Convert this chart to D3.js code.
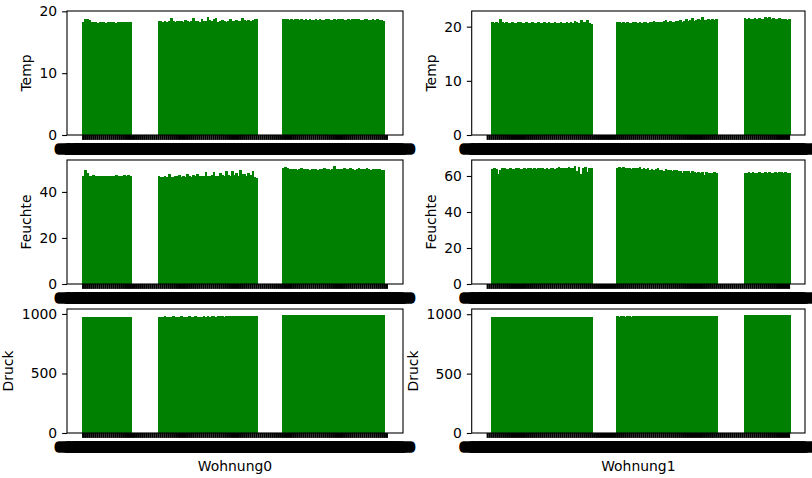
<!DOCTYPE html>
<html>
<head>
<meta charset="utf-8">
<script src="https://cdn.jsdelivr.net/npm/d3@7"></script>
<style>
  body { margin: 0; background: #fff; }
  svg { display: block; }
  text { font-family: "DejaVu Sans", sans-serif; fill: #000; }
</style>
</head>
<body>
<svg id="chart" width="812" height="478"></svg>
<script>
// Months (MM.YYYY), shared by both apartments
const months = [
  "01.2008","02.2008","03.2008","04.2008","05.2008","06.2008","07.2008","08.2008","09.2008","10.2008","11.2008","12.2008",
  "01.2009","02.2009","03.2009","04.2009","05.2009","06.2009","07.2009","08.2009","09.2009","10.2009","11.2009","12.2009",
  "01.2010","02.2010","03.2010","04.2010","05.2010","06.2010","07.2010","08.2010","09.2010","10.2010","11.2010","12.2010",
  "01.2011","02.2011","03.2011","04.2011","05.2011","06.2011","07.2011","08.2011","09.2011","10.2011","11.2011","12.2011",
  "01.2012","02.2012","03.2012","04.2012","05.2012","06.2012","07.2012","08.2012","09.2012","10.2012","11.2012","12.2012",
  "01.2013","02.2013","03.2013","04.2013","05.2013","06.2013","07.2013","08.2013","09.2013","10.2013","11.2013","12.2013",
  "01.2014","02.2014","03.2014","04.2014","05.2014","06.2014","07.2014","08.2014","09.2014","10.2014","11.2014","12.2014",
  "01.2015","02.2015","03.2015","04.2015","05.2015","06.2015","07.2015","08.2015","09.2015","10.2015","11.2015","12.2015",
  "01.2016","02.2016","03.2016","04.2016","05.2016","06.2016","07.2016","08.2016","09.2016","10.2016","11.2016","12.2016",
  "01.2017","02.2017","03.2017","04.2017","05.2017","06.2017","07.2017","08.2017","09.2017","10.2017","11.2017","12.2017",
  "01.2018","02.2018","03.2018","04.2018","05.2018","06.2018","07.2018","08.2018","09.2018","10.2018","11.2018","12.2018",
  "01.2019","02.2019","03.2019","04.2019","05.2019","06.2019","07.2019","08.2019","09.2019","10.2019","11.2019","12.2019",
  "01.2020","02.2020","03.2020","04.2020","05.2020","06.2020"
];

// Wohnung0 – null marks months without readings
const temp0 = [
  18.3,18.7,18.8,18.6,18.2,18.2,18.2,18.15,18.2,18.2,18.2,18.15,18.2,18.2,18.2,18.2,18.15,18.2,18.2,18.2,18.2,18.2,18.2,18.2,
  null,null,null,null,null,null,null,null,null,null,null,null,null,
  18.4,18.5,18.3,18.4,18.3,18.5,18.9,18.4,18.3,18.4,
  18.5,18.4,18.3,18.6,18.4,18.3,18.5,18.9,18.5,18.4,
  18.3,18.7,18.5,18.4,19.1,18.6,18.5,18.7,18.9,18.3,
  18.4,18.6,18.5,18.3,18.4,18.8,18.5,18.4,18.6,18.4,
  18.5,18.9,18.6,18.5,18.6,18.5,18.6,18.7,18.8,
  null,null,null,null,null,null,null,null,null,null,null,null,
  18.7,18.75,18.7,18.65,18.7,18.6,18.7,18.7,18.65,18.7,
  18.6,18.7,18.65,18.7,18.6,18.65,18.7,18.6,18.7,18.65,
  18.6,18.7,18.7,18.6,18.65,18.7,18.6,18.7,18.75,18.7,
  18.6,18.65,18.7,18.6,18.7,18.7,18.75,18.7,18.6,18.65,
  18.7,18.7,18.6,18.65,18.7,18.6,18.7,18.65,18.6,18.5,
  null,null
];
const feuchte0 = [
  47.0,49.5,48.2,46.8,46.9,47.2,46.8,46.7,47.0,46.9,46.8,47.1,46.9,46.8,47.0,46.9,47.2,47.0,46.9,47.1,47.3,46.9,47.2,47.0,
  null,null,null,null,null,null,null,null,null,null,null,null,null,
  46.8,46.3,46.6,46.9,46.5,47.8,46.6,46.5,46.9,46.7,
  47.5,46.6,46.8,46.4,47.9,46.7,46.5,47.2,46.8,47.6,
  46.7,47.0,46.8,48.6,47.1,46.9,47.4,48.8,47.0,46.8,
  48.1,47.2,46.9,48.9,47.3,47.0,49.3,47.4,48.2,47.1,
  49.5,47.6,48.0,46.9,48.4,47.2,49.0,46.5,46.2,
  null,null,null,null,null,null,null,null,null,null,null,null,
  50.3,51.0,50.2,49.8,50.0,49.9,50.1,49.7,49.9,50.2,
  49.8,49.9,50.0,49.7,49.8,50.1,49.8,49.6,49.9,50.0,
  50.2,49.8,49.9,49.7,50.0,51.3,49.9,50.0,49.8,50.1,
  50.3,49.9,49.8,50.2,50.0,49.7,50.0,50.4,49.9,50.1,
  49.8,50.2,50.0,49.7,49.9,50.1,49.8,50.0,49.7,49.6,
  null,null
];
const druck0 = [
  973,975,974,972,972,971,972,972,971,972,972,971,972,972,972,971,972,972,972,971,972,972,972,972,
  null,null,null,null,null,null,null,null,null,null,null,null,null,
  977,978,977,979,978,977,978,980,978,977,
  978,979,978,977,978,981,978,978,979,978,
  977,978,980,978,979,978,981,979,978,979,
  980,979,978,980,979,982,979,980,979,981,
  980,979,982,980,979,981,980,982,980,
  null,null,null,null,null,null,null,null,null,null,null,null,
  988,989,990,989,988,990,989,991,989,990,
  989,990,988,989,991,990,989,990,989,988,
  990,989,991,990,989,990,992,990,989,990,
  991,990,989,990,991,990,989,991,990,989,
  990,991,990,989,990,991,990,989,990,988,
  null,null
];

// Wohnung1
const temp1 = [
  null,null,
  20.8,20.7,20.8,20.7,21.5,20.9,20.7,20.8,20.7,20.7,
  20.8,20.7,20.7,20.8,20.9,20.7,20.7,20.8,20.7,20.7,
  20.8,20.7,20.7,20.8,20.7,20.7,20.8,20.7,20.9,20.7,
  20.7,20.8,20.7,20.7,20.8,20.7,20.7,20.8,20.7,20.8,
  20.7,21.1,20.8,20.7,21.3,20.8,20.9,21.2,20.7,20.5,
  null,null,null,null,null,null,null,null,null,null,null,null,
  20.9,20.8,20.7,20.9,20.6,20.8,20.7,20.6,20.8,20.9,
  20.7,20.8,20.6,20.9,20.8,20.7,20.9,20.8,21.0,20.8,
  20.9,20.8,20.9,21.0,21.2,20.9,21.0,20.8,20.9,21.1,
  21.0,21.3,20.9,21.0,21.5,21.0,21.2,21.6,21.1,21.3,
  21.4,21.2,21.7,21.3,21.2,21.5,21.3,21.4,21.2,21.5,
  null,null,null,null,null,null,null,null,null,null,null,null,null,
  21.6,21.5,21.6,21.5,21.4,21.6,21.5,21.6,21.5,21.5,
  21.7,21.6,21.8,21.5,21.6,21.5,21.4,21.6,21.5,21.4,21.5,21.3,21.4
];
const feuchte1 = [
  null,null,
  64.0,64.3,63.8,61.0,63.5,64.2,64.5,63.9,64.1,64.3,
  64.0,63.7,64.2,64.4,64.0,63.8,64.3,64.1,64.5,64.2,
  63.9,64.3,64.0,64.4,64.6,64.2,63.9,64.4,64.1,64.5,
  64.3,64.0,64.6,64.8,64.4,64.2,64.7,64.5,65.0,64.6,
  64.4,65.6,63.0,64.8,61.0,64.5,64.9,62.0,64.7,64.3,
  null,null,null,null,null,null,null,null,null,null,null,null,
  64.4,64.8,64.2,65.0,64.5,64.3,64.7,64.1,64.4,64.6,
  64.2,64.9,63.8,64.3,63.9,64.5,63.6,64.0,63.4,63.8,
  64.2,63.3,63.6,62.8,63.9,63.2,63.5,62.9,63.1,63.4,
  62.7,63.0,61.8,62.9,62.5,62.8,61.5,62.6,62.3,61.9,
  62.4,61.6,62.0,60.8,62.2,61.7,61.9,61.4,62.0,61.5,
  null,null,null,null,null,null,null,null,null,null,null,null,null,
  61.5,61.8,62.0,61.6,62.2,61.7,61.9,62.1,61.6,61.8,
  62.0,61.5,62.3,61.9,61.7,62.1,61.8,62.4,62.0,61.7,62.2,61.9,61.8
];
const druck1 = [
  null,null,
  977,976,978,976,975,977,976,976,975,977,
  976,977,976,975,976,977,976,978,976,975,
  976,977,976,976,977,975,976,977,976,978,
  977,976,977,976,978,977,976,977,978,976,
  977,978,976,977,979,977,978,977,976,975,
  null,null,null,null,null,null,null,null,null,null,null,null,
  981,980,982,981,980,981,982,980,981,982,
  981,983,982,981,982,981,983,982,981,982,
  983,982,984,982,983,982,984,983,982,983,
  984,983,982,984,983,985,983,984,983,984,
  985,984,983,985,984,986,984,985,984,985,
  null,null,null,null,null,null,null,null,null,null,null,null,null,
  990,991,992,991,990,992,991,993,991,992,
  991,992,994,992,991,993,992,991,992,993,991,992,991
];

// y tick values per panel
const tempTicks = [0, 10, 20];
const feuchteTicks0 = [0, 20, 40];
const feuchteTicks1 = [0, 20, 40, 60];
const druckTicks = [0, 500, 1000];

const apartments = ["Wohnung0", "Wohnung1"];

const svg = d3.select("#chart");
const FS = 13.9;           // font size (px)
const TICK = 4.9;          // tick length
const PAD = 4.9;           // tick label padding
const LABELPAD = 5.6;
const GREEN = "#008000";

const cols = [{ left: 67, right: 403 }, { left: 471.7, right: 805 }];
const rowTops = [11, 160, 309];
const H = 124;

const panels = [
  { col: 0, row: 0, name: "Temp",    values: temp0,    ticks: tempTicks },
  { col: 0, row: 1, name: "Feuchte", values: feuchte0, ticks: feuchteTicks0 },
  { col: 0, row: 2, name: "Druck",   values: druck0,   ticks: druckTicks },
  { col: 1, row: 0, name: "Temp",    values: temp1,    ticks: tempTicks },
  { col: 1, row: 1, name: "Feuchte", values: feuchte1, ticks: feuchteTicks1 },
  { col: 1, row: 2, name: "Druck",   values: druck1,   ticks: druckTicks }
];

panels.forEach(p => {
  const c = cols[p.col];
  const top = rowTops[p.row], bottom = top + H;
  const N = months.length;

  // bars of width 0.8 with 5% margin on each side of the data range
  const x = d3.scaleBand()
    .domain(months)
    .range([c.left, c.right])
    .paddingInner(0.2)
    .paddingOuter(0.05 * (N - 0.2));

  const y = d3.scaleLinear()
    .domain([0, d3.max(p.values) * 1.05])
    .range([bottom, top]);

  const g = svg.append("g");

  const data = months.map((m, i) => ({ m, v: p.values[i] })).filter(d => d.v != null);

  // neighbouring bars touch at this density, so draw them slightly widened and crisp
  g.append("g")
    .attr("shape-rendering", "crispEdges")
    .selectAll("rect")
    .data(data)
    .join("rect")
      .attr("x", d => x(d.m))
      .attr("width", x.step() + 0.6)
      .attr("y", d => y(d.v))
      .attr("height", d => y(0) - y(d.v))
      .attr("fill", GREEN);

  // x axis: one tick and label per month
  const xa = g.append("g")
    .attr("transform", `translate(0,${bottom})`)
    .call(d3.axisBottom(x).tickSize(TICK).tickPadding(PAD));
  xa.select(".domain").remove();
  xa.selectAll(".tick line").attr("stroke", "#000").attr("stroke-width", 2.1);
  xa.selectAll(".tick text")
    .attr("font-size", FS)
    .attr("font-family", "DejaVu Sans")
    .attr("fill", "#000")
    .attr("stroke", "#000")
    .attr("stroke-width", 1.3)
    .attr("stroke-linejoin", "round")
    .attr("dy", "0.64em");

  // y axis
  const ya = g.append("g")
    .attr("transform", `translate(${c.left},0)`)
    .call(d3.axisLeft(y).tickValues(p.ticks).tickFormat(d3.format("d")).tickSize(TICK).tickPadding(PAD));
  ya.select(".domain").remove();
  ya.selectAll(".tick line").attr("stroke", "#000").attr("stroke-width", 1.1);
  ya.selectAll(".tick text")
    .attr("font-size", FS)
    .attr("font-family", "DejaVu Sans")
    .attr("fill", "#000");

  // frame
  g.append("rect")
    .attr("x", c.left).attr("y", top)
    .attr("width", c.right - c.left).attr("height", H)
    .attr("fill", "none")
    .attr("stroke", "#000")
    .attr("stroke-width", 1.1);

  // y label, placed left of the widest tick label
  let minX = 0;
  ya.selectAll(".tick text").each(function () {
    const b = this.getBBox();
    minX = Math.min(minX, b.x);
  });
  const lx = c.left + minX - LABELPAD - 0.2 * FS;
  g.append("text")
    .attr("transform", `translate(${lx},${(top + bottom) / 2}) rotate(-90)`)
    .attr("text-anchor", "middle")
    .attr("font-size", FS)
    .text(p.name);

  // x label under the bottom row
  if (p.row === 2) {
    g.append("text")
      .attr("x", (c.left + c.right) / 2)
      .attr("y", 470.5)
      .attr("text-anchor", "middle")
      .attr("font-size", FS)
      .text(apartments[p.col]);
  }
});
</script>
</body>
</html>
